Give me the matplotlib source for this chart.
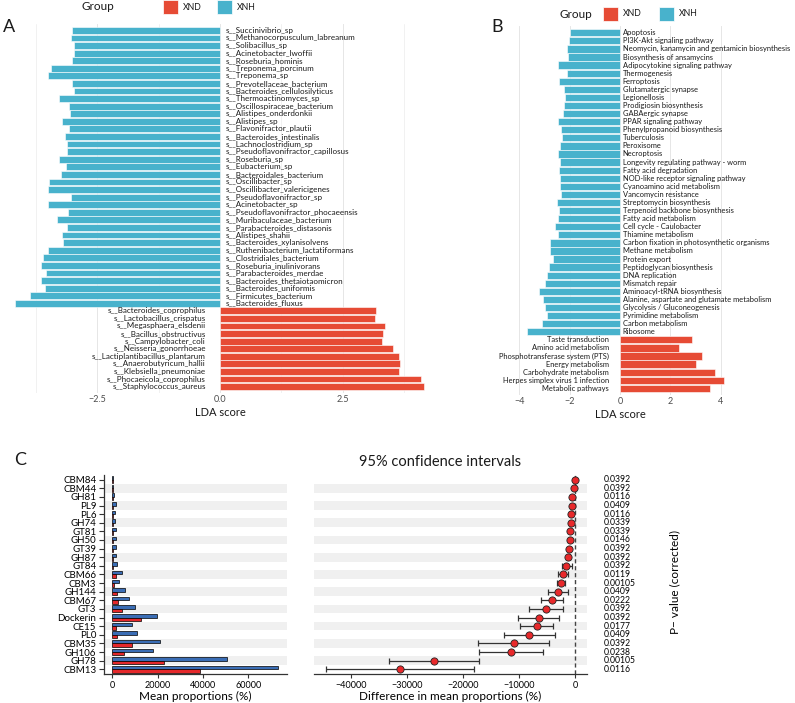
import numpy as np
import matplotlib
matplotlib.use('Agg')
import matplotlib.pyplot as plt
from matplotlib.patches import Rectangle

plt.rcParams['font.family'] = ['Lato', 'DejaVu Sans']

# ---- panel A: LEfSe species ----
a_xnh_names = ["s__Succinivibrio_sp", "s__Methanocorpusculum_labreanum", "s__Solibacillus_sp",
               "s__Acinetobacter_lwoffii", "s__Roseburia_hominis", "s__Treponema_porcinum",
               "s__Treponema_sp", "s__Prevotellaceae_bacterium", "s__Bacteroides_cellulosilyticus",
               "s__Thermoactinomyces_sp", "s__Oscillospiraceae_bacterium", "s__Alistipes_onderdonkii",
               "s__Alistipes_sp", "s__Flavonifractor_plautii", "s__Bacteroides_intestinalis",
               "s__Lachnoclostridium_sp", "s__Pseudoflavonifractor_capillosus", "s__Roseburia_sp",
               "s__Eubacterium_sp", "s__Bacteroidales_bacterium", "s__Oscillibacter_sp",
               "s__Oscillibacter_valericigenes", "s__Pseudoflavonifractor_sp", "s__Acinetobacter_sp",
               "s__Pseudoflavonifractor_phocaeensis", "s__Muribaculaceae_bacterium",
               "s__Parabacteroides_distasonis", "s__Alistipes_shahii", "s__Bacteroides_xylanisolvens",
               "s__Ruthenibacterium_lactatiformans", "s__Clostridiales_bacterium",
               "s__Roseburia_inulinivorans", "s__Parabacteroides_merdae",
               "s__Bacteroides_thetaiotaomicron", "s__Bacteroides_uniformis",
               "s__Firmicutes_bacterium", "s__Bacteroides_fluxus"]
a_xnh_lda = [-3.02, -3.03, -2.97, -2.97, -3.01, -3.45, -3.51, -3.01, -2.98, -3.27, -3.07, -3.05,
             -3.21, -3.08, -3.16, -3.11, -3.12, -3.27, -3.13, -3.24, -3.48, -3.51, -3.03, -3.50,
             -3.09, -3.32, -3.12, -3.21, -3.19, -3.51, -3.61, -3.65, -3.54, -3.65, -3.56, -3.88, -4.17]
a_xnd_names = ["s__Bacteroides_coprophilus", "s__Lactobacillus_crispatus", "s__Megasphaera_elsdenii",
               "s__Bacillus_obstructivus", "s__Campylobacter_coli", "s__Neisseria_gonorrhoeae",
               "s__Lactiplantibacillus_plantarum", "s__Anaerobutyricum_hallii",
               "s__Klebsiella_pneumoniae", "s__Phocaeicola_coprophilus", "s__Staphylococcus_aureus"]
a_xnd_lda = [3.17, 3.15, 3.36, 3.32, 3.31, 3.53, 3.64, 3.67, 3.64, 4.10, 4.15]

# ---- panel B: LEfSe pathways ----
b_xnh_names = ["Apoptosis", "PI3K-Akt signaling pathway", "Neomycin, kanamycin and gentamicin biosynthesis",
               "Biosynthesis of ansamycins", "Adipocytokine signaling pathway", "Thermogenesis",
               "Ferroptosis", "Glutamatergic synapse", "Legionellosis", "Prodigiosin biosynthesis",
               "GABAergic synapse", "PPAR signaling pathway", "Phenylpropanoid biosynthesis",
               "Tuberculosis", "Peroxisome", "Necroptosis", "Longevity regulating pathway - worm",
               "Fatty acid degradation", "NOD-like receptor signaling pathway",
               "Cyanoamino acid metabolism", "Vancomycin resistance", "Streptomycin biosynthesis",
               "Terpenoid backbone biosynthesis", "Fatty acid metabolism", "Cell cycle - Caulobacter",
               "Thiamine metabolism", "Carbon fixation in photosynthetic organisms",
               "Methane metabolism", "Protein export", "Peptidoglycan biosynthesis", "DNA replication",
               "Mismatch repair", "Aminoacyl-tRNA biosynthesis",
               "Alanine, aspartate and glutamate metabolism", "Glycolysis / Gluconeogenesis",
               "Pyrimidine metabolism", "Carbon metabolism", "Ribosome"]
b_xnh_lda = [-1.98, -2.02, -2.12, -2.05, -2.45, -2.12, -2.43, -2.22, -2.18, -2.21, -2.25, -2.46,
             -2.33, -2.30, -2.38, -2.45, -2.39, -2.42, -2.37, -2.39, -2.35, -2.50, -2.41, -2.46,
             -2.59, -2.46, -2.77, -2.78, -2.67, -2.83, -2.90, -2.96, -3.20, -3.04, -2.98, -2.91,
             -3.11, -3.68]
b_xnd_names = ["Taste transduction", "Amino acid metabolism", "Phosphotransferase system (PTS)",
               "Energy metabolism", "Carbohydrate metabolism", "Herpes simplex virus 1 infection",
               "Metabolic pathways"]
b_xnd_lda = [2.86, 2.35, 3.27, 3.00, 3.77, 4.11, 3.57]

# ---- panel C: CAZy families ----
c_features = ["CBM84", "CBM44", "GH81", "PL9", "PL6", "GH74", "GT81", "GH50", "GT39", "GH87",
              "GT84", "CBM66", "CBM3", "GH144", "CBM67", "GT3", "Dockerin", "CE15", "PL0",
              "CBM35", "GH106", "GH78", "CBM13"]
c_mean_xnh = [400, 400, 900, 1500, 1200, 1300, 1500, 1600, 1750, 1600, 2100, 4100, 3100, 5400,
              7200, 10000, 19700, 8800, 11000, 20900, 17800, 50600, 73000]
c_mean_xnd = [150, 150, 200, 400, 300, 300, 350, 400, 500, 450, 500, 1500, 600, 2200, 2600,
              4400, 12500, 1500, 1900, 8700, 5100, 22800, 38500]
c_diff = [-80, -180, -540, -600, -650, -710, -890, -950, -1000, -1190, -1610, -2200, -2560,
          -2980, -4110, -5180, -6490, -6790, -8150, -10890, -11430, -25120, -31250]
c_ci_low = [-150, -260, -650, -700, -760, -820, -1000, -1070, -1130, -1400, -2380, -3100, -3270,
            -4760, -6130, -8270, -10120, -9760, -12740, -17260, -17140, -33150, -44460]
c_ci_high = [-10, -100, -430, -500, -540, -600, -780, -830, -870, -980, -600, -1300, -1790,
             -1310, -2080, -2080, -2800, -3870, -3630, -4580, -5650, -17140, -18100]
c_pvalue = ["0.0392", "0.0392", "0.0116", "0.0409", "0.0116", "0.0339", "0.0339", "0.0146",
            "0.0392", "0.0392", "0.0392", "0.0119", "0.00105", "0.0409", "0.0222", "0.0392",
            "0.0392", "0.0177", "0.0409", "0.0392", "0.0238", "0.00105", "0.0116"]

RED = "#E64B35"
BLUE = "#48B2CC"
GRID = "#E6E6E6"
TXT = "#1A1A1A"

W, H = 795, 703
fig = plt.figure(figsize=(W / 100, H / 100), dpi=100)


def px_axes(left, top, right, bottom):
    return fig.add_axes([left / W, 1 - bottom / H, (right - left) / W, (bottom - top) / H])


def lda_panel(ax, names_neg, vals_neg, names_pos, vals_pos, pos_off, neg_off, fs):
    names = names_neg + names_pos
    vals = vals_neg + vals_pos
    cols = [BLUE] * len(vals_neg) + [RED] * len(vals_pos)
    y = np.arange(len(vals))
    ax.barh(y, vals, height=0.9, color=cols, edgecolor='white', linewidth=0.4, zorder=2)
    for yi, v, n in zip(y, vals, names):
        if v < 0:
            ax.text(pos_off, yi, n, ha='left', va='center', fontsize=fs, color=TXT, zorder=3)
        else:
            ax.text(neg_off, yi, n, ha='right', va='center', fontsize=fs, color=TXT, zorder=3)
    for s in ax.spines.values():
        s.set_visible(False)
    ax.set_yticks([])
    ax.tick_params(axis='x', length=0, labelsize=6.5, labelcolor='#4D4D4D', pad=1.5)
    ax.set_xlabel("LDA score", fontsize=8, color=TXT, labelpad=2)
    ax.set_axisbelow(True)


# panel A
axA = px_axes(4, 24.3, 436, 392.7)
lda_panel(axA, a_xnh_names, a_xnh_lda, a_xnd_names, a_xnd_lda, 0.116, -0.29, 5.75)
axA.set_xlim(-4.4, 4.4)
axA.set_ylim(47.8, -0.8)
axA.set_xticks([-2.5, 0, 2.5])
axA.set_xticklabels(["\u22122.5", "0.0", "2.5"])
axA.set_xticks([-3.75, -1.25, 1.25, 3.75], minor=True)
axA.tick_params(axis='x', which='minor', length=0)
axA.grid(axis='x', which='major', color=GRID, lw=0.7)
axA.grid(axis='x', which='minor', color=GRID, lw=0.4)

# panel B
axB = px_axes(504, 26.3, 736, 394.8)
lda_panel(axB, b_xnh_names, b_xnh_lda, b_xnd_names, b_xnd_lda, 0.11, -0.43, 5.4)
axB.set_xlim(-4.6, 4.6)
axB.set_ylim(44.8, -0.8)
axB.set_xticks([-4, -2, 0, 2, 4])
axB.set_xticklabels(["\u22124", "\u22122", "0", "2", "4"])
axB.grid(axis='x', color=GRID, lw=0.7)

# legends
def legend(x_group, x_red, x_blue, yc):
    fig.text(x_group / W, 1 - yc / H, "Group", fontsize=8.5, color=TXT, ha='left', va='center')
    for xs, lab in [(x_red, "XND"), (x_blue, "XNH")]:
        c = RED if lab == "XND" else BLUE
        fig.patches.append(Rectangle((xs / W, 1 - (yc + 7) / H), 15 / W, 14 / H,
                                     transform=fig.transFigure, facecolor=c, edgecolor='white',
                                     lw=0.5, figure=fig))
        fig.text((xs + 20) / W, 1 - yc / H, lab, fontsize=6.3, color=TXT, ha='left', va='center')


legend(82, 163, 217, 7)
legend(560, 603, 659, 14)

fig.text(3 / W, 1 - 27 / H, "A", fontsize=13, color=TXT, ha='left', va='center')
fig.text(491 / W, 1 - 27 / H, "B", fontsize=13, color=TXT, ha='left', va='center')
fig.text(14 / W, 1 - 460 / H, "C", fontsize=13, color=TXT, ha='left', va='center')
fig.text(440 / W, 1 - 462 / H, "95% confidence intervals", fontsize=10.5, color=TXT,
         ha='center', va='center')

# panel C left: mean proportions
yc = np.arange(len(c_features))
axL = px_axes(104, 474.5, 287, 674)
for i in yc[1::2]:
    axL.axhspan(i - 0.5, i + 0.5, color='#F0F0F0', lw=0, zorder=0)
axL.barh(yc - 0.2, c_mean_xnh, height=0.4, color="#3A6DB5", edgecolor='black', lw=0.5, zorder=2)
axL.barh(yc + 0.2, c_mean_xnd, height=0.4, color="#E4282B", edgecolor='black', lw=0.5, zorder=2)
axL.set_xlim(-3665, 77130)
axL.set_ylim(22.55, -0.6)
axL.set_yticks(yc)
axL.set_yticklabels(c_features)
axL.set_xticks([0, 20000, 40000, 60000])
axL.tick_params(axis='y', length=3.5, width=0.8, labelsize=7, pad=2, color='#333333')
axL.tick_params(axis='x', length=3, width=0.8, labelsize=6.5, pad=2, color='#333333')
axL.spines['top'].set_visible(False)
axL.spines['right'].set_visible(False)
for s in ['left', 'bottom']:
    axL.spines[s].set_color('#333333')
    axL.spines[s].set_linewidth(0.9)
axL.set_xlabel("Mean proportions (%)", fontsize=8.5, labelpad=1)

# panel C right: difference with CI
axR = px_axes(314, 474.5, 586.7, 674)
for i in yc[1::2]:
    axR.axhspan(i - 0.5, i + 0.5, color='#F0F0F0', lw=0, zorder=0)
axR.axvline(0, color='#444444', ls=(0, (3, 2)), lw=1, zorder=1)
d = np.array(c_diff)
err = [d - np.array(c_ci_low), np.array(c_ci_high) - d]
axR.errorbar(d, yc, xerr=err, fmt='none', ecolor='#333333', elinewidth=0.9, capsize=2,
             capthick=0.9, zorder=2)
axR.plot(d, yc, 'o', ms=5.2, mfc='#E8292B', mec='#222222', mew=0.6, zorder=3)
axR.set_xlim(-46600, 2090)
axR.set_ylim(22.55, -0.6)
axR.set_yticks([])
axR.set_xticks([-40000, -30000, -20000, -10000, 0])
axR.set_xticklabels(["\u221240000", "\u221230000", "\u221220000", "\u221210000", "0"])
axR.tick_params(axis='x', length=3, width=0.8, labelsize=6.5, pad=2, color='#333333')
for s in ['top', 'right', 'left']:
    axR.spines[s].set_visible(False)
axR.spines['bottom'].set_color('#333333')
axR.spines['bottom'].set_linewidth(0.9)
axR.set_xlabel("Difference in mean proportions (%)", fontsize=8.5, labelpad=1)
for i, p in zip(yc, c_pvalue):
    axR.annotate(p, xy=(1, i), xycoords=('axes fraction', 'data'), xytext=(12, 0),
                 textcoords='offset points', ha='left', va='center', fontsize=6.2)
fig.text(675 / W, 1 - 582 / H, "P\u2212 value (corrected)", rotation=90, fontsize=8.5,
         ha='center', va='center')

fig.savefig("out.png", dpi=100)
